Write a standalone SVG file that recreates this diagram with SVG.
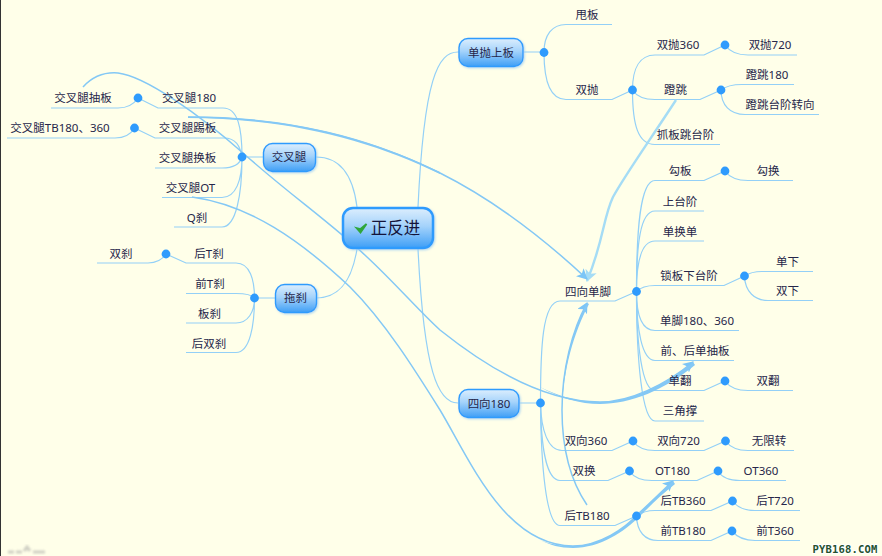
<svg xmlns="http://www.w3.org/2000/svg" width="882" height="556" viewBox="0 0 882 556">
<style>
text{font-family:"Noto Sans","Noto Sans CJK SC",sans-serif;font-size:11.5px;fill:#26264a;text-anchor:middle}
.l{fill:none;stroke:#93d0f7;stroke-width:1.2}
.a{fill:none;stroke:#84c8f5;stroke-width:1.5}
.t{fill:#84c8f5}
.d{fill:#2f9bfd}
.n{fill:url(#g);stroke:#2f9bfd;stroke-width:1.4;filter:url(#s)}
.c{font-size:16.5px;fill:#14143a}
</style>
<defs>
<linearGradient id="g" x1="0" y1="0" x2="0" y2="1"><stop offset="0" stop-color="#dceefd"/><stop offset="0.45" stop-color="#a5d3fb"/><stop offset="1" stop-color="#3f9ff6"/></linearGradient>
<filter id="s" x="-20%" y="-30%" width="140%" height="160%"><feDropShadow dx="1" dy="1" stdDeviation="1" flood-color="#9ecff2" flood-opacity="0.8"/></filter>
<filter id="b" x="-10%" y="-50%" width="120%" height="200%"><feGaussianBlur stdDeviation="0.8"/></filter>
<marker id="m" viewBox="0 0 10 10" refX="9" refY="5" markerWidth="11" markerHeight="11" markerUnits="userSpaceOnUse" orient="auto"><path d="M0,0L10,5L0,10L2.5,5Z" fill="#7cc5f6"/></marker>
<marker id="k" viewBox="0 0 10 10" refX="9" refY="5" markerWidth="12" markerHeight="12" markerUnits="userSpaceOnUse" orient="auto"><path d="M0,0L10,5L0,10L2.5,5Z" fill="#a5dcf5"/></marker>
</defs>
<rect width="882" height="556" fill="#ffffe9"/>
<rect width="1" height="556" fill="#333"/>
<g id="connectors">
<path class="l" d="M316,157C340,157 353,175 357,207M316,298C340,298 352,280 357,249M458,52C438,52 424,78 418,207M458,403C438,403 424,372 418,249"/>
<path class="l" d="M263,157H242M275,298H254.5M458,52H544M519,403H540.5"/>
<path class="l" d="M51,108H118C128,108 134,104 138,98L158,108H223C238,108 242,128 242,157"/>
<path class="l" d="M7,138H115C125,138 131,134 134.5,128L155,138H224C236,138 240,146 242,157"/>
<path class="l" d="M155,168H222C234,168 240,164 242,157M162,197.5H222C236,197.5 242,180 242,157M174,227H222C236,227 242,195 242,157"/>
<path class="l" d="M97,263H148C156,263 162,260 166,254L186,263H236C250,263 254.5,280 254.5,298"/>
<path class="l" d="M186,293.5H236C246,293.5 252,295 254.5,298M186,323H236C248,323 254.5,312 254.5,298M186,352.5H236C250,352.5 254.5,325 254.5,298"/>
<path class="l" d="M544,52.5C544,35 552,24.5 566,24.5H612M544,52.5C544,85 552,99.5 566,99.5H612L632.5,90"/>
<path class="l" d="M632.5,90C632.5,68 640,55 655,55H704L725,45C730,52 738,55 748,55H797"/>
<path class="l" d="M632.5,90C637,97 645,99.5 655,99.5H700L721,90C726,86 732,84.5 742,84.5H794M721,90C721,105 730,114.5 745,114.5H819"/>
<path class="l" d="M632.5,90C632.5,125 638,144.5 655,144.5H720"/>
<path class="l" d="M636.5,291.5C636.5,230 640,180.5 655,180.5H704L725,171C730,178 738,180.5 748,180.5H793"/>
<path class="l" d="M636.5,291.5C636.5,245 640,211 655,211H704M636.5,291.5C636.5,265 640,241 655,241H704"/>
<path class="l" d="M636.5,291.5C640,288 645,285.5 655,285.5H724L744.5,276C749,273 755,271.5 762,271.5H813M744.5,276C745,292 755,300.5 768,300.5H813"/>
<path class="l" d="M636.5,291.5C636.5,315 642,330.5 655,330.5H739M636.5,291.5C636.5,330 642,360.5 655,360.5H734"/>
<path class="l" d="M636.5,291.5C636.5,345 642,390.5 655,390.5H704L725,381C730,388 738,390.5 748,390.5H793"/>
<path class="l" d="M636.5,291.5C636.5,360 642,421 655,421H704"/>
<path class="l" d="M540.5,403C540.5,350 542,301 560,301H615L636.5,291.5"/>
<path class="l" d="M540.5,403C541,430 548,450.5 562,450.5H612L633,441C637,447 645,450.5 655,450.5H704L725.5,441C730,447 738,450.5 748,450.5H794"/>
<path class="l" d="M540.5,403C541,445 546,480.5 560,480.5H608L629.5,471C634,478 642,480.5 652,480.5H697L718,471C722,478 730,480.5 740,480.5H786"/>
<path class="l" d="M540.5,403C541,465 546,525.5 560,525.5H615L636.5,516C642,512 648,510.5 655,510.5H711L732.5,501C737,507 745,510.5 755,510.5H800"/>
<path class="l" d="M636.5,516C637,532 645,540.5 658,540.5H711L732,531C737,537 745,540.5 755,540.5H800"/>
<path d="M676,100C650,140 625,175 613,197C603,218 604,240 587,281" fill="none" stroke="#a5dcf5" stroke-width="2.4" marker-end="url(#k)"/>
<path class="a" d="M83,87C93,76 105,72 118,73C145,76 200,115 243,153C290,195 330,222 367,257C395,283 420,312 440,330C490,370 545,402 600,402C630,402 665,385 693,362" marker-end="url(#m)"/>
<path class="t" d="M540,387C560,397 580,402 600,402C630,402 665,385 693,362L695,365C665,390 630,404 600,404C580,404 560,398 540,387Z"/>
<path class="a" d="M188,117C290,117 370,138 440,173C490,198 540,235 587,279" marker-end="url(#m)"/>
<path class="t" d="M188,116.5C290,116.5 370,138 440,172L440,174C370,140 290,118.5 188,118Z"/>
<path class="a" d="M192,197C250,205 300,240 350,287C385,322 415,370 440,410C470,460 505,546 573,546C600,546 625,528 637,515C650,503 662,491 673,481" marker-end="url(#m)"/>
<path class="t" d="M540,540C550,544 560,546 573,546C600,546 625,528 637,515C650,503 662,491 673,481L675,484C662,494 650,506 639,517C625,531 600,548 573,548C560,548 550,545 540,540Z"/>
<path class="a" d="M587,505C570,480 562,450 562,410C562,370 572,330 587,303" marker-end="url(#m)"/>
<path class="t" d="M562,410C562,370 572,330 587,303L589,304C574,332 563,370 562,410Z"/>
<circle class="d" cx="138" cy="98" r="4.4"/><circle class="d" cx="134.5" cy="128" r="4.4"/><circle class="d" cx="242" cy="157" r="4.4"/><circle class="d" cx="166" cy="254" r="4.4"/><circle class="d" cx="254.5" cy="298" r="4.4"/>
<circle class="d" cx="544" cy="52.5" r="4.4"/><circle class="d" cx="632.5" cy="90" r="4.4"/><circle class="d" cx="725" cy="45" r="4.4"/><circle class="d" cx="721" cy="90" r="4.4"/><circle class="d" cx="725" cy="171" r="4.4"/><circle class="d" cx="744.5" cy="276" r="4.4"/><circle class="d" cx="636.5" cy="291.5" r="4.4"/><circle class="d" cx="725" cy="381" r="4.4"/><circle class="d" cx="540.5" cy="403" r="4.4"/><circle class="d" cx="633" cy="441" r="4.4"/><circle class="d" cx="725.5" cy="441" r="4.4"/><circle class="d" cx="629.5" cy="471" r="4.4"/><circle class="d" cx="718" cy="471" r="4.4"/><circle class="d" cx="636.5" cy="516" r="4.4"/><circle class="d" cx="732.5" cy="501" r="4.4"/><circle class="d" cx="732" cy="531" r="4.4"/>
</g>
<g id="root"><rect class="n" x="343" y="208" width="90" height="40" rx="10" style="stroke-width:2.5"/><path d="M356.5,228L360.5,232.5L366.5,224L360.5,229Z" fill="#2fa63a" stroke="#2fa63a" stroke-width="1.8"/><text class="c" x="395.5" y="234">正反进</text></g>
<g id="jiaocha"><rect class="n" x="263.5" y="143.5" width="52" height="28" rx="9"/><text x="289" y="161">交叉腿</text></g>
<g id="tuosha"><rect class="n" x="275.5" y="284.5" width="41" height="28" rx="9"/><text x="295.5" y="302">拖刹</text></g>
<g id="danpao"><rect class="n" x="459" y="38.5" width="64" height="28" rx="9"/><text x="491" y="56.5">单抛上板</text></g>
<g id="sixiang180"><rect class="n" x="459" y="389.5" width="60" height="28" rx="9"/><text x="489" y="407.5">四向180</text></g>
<g id="n1"><text x="83" y="102">交叉腿抽板</text></g>
<g id="n2"><text x="189" y="102">交叉腿180</text></g>
<g id="n3"><text x="60" y="132">交叉腿TB180、360</text></g>
<g id="n4"><text x="187.5" y="132">交叉腿踢板</text></g>
<g id="n5"><text x="187.5" y="162">交叉腿换板</text></g>
<g id="n6"><text x="190.5" y="192">交叉腿OT</text></g>
<g id="n7"><text x="197" y="222">Q刹</text></g>
<g id="n8"><text x="121" y="258">双刹</text></g>
<g id="n9"><text x="209" y="258">后T刹</text></g>
<g id="n10"><text x="210" y="288">前T刹</text></g>
<g id="n11"><text x="209.5" y="318">板刹</text></g>
<g id="n12"><text x="209" y="347.5">后双刹</text></g>
<g id="n13"><text x="587" y="19">甩板</text></g>
<g id="n14"><text x="587" y="94">双抛</text></g>
<g id="n15"><text x="678" y="49">双抛360</text></g>
<g id="n16"><text x="770" y="49">双抛720</text></g>
<g id="n17"><text x="675.5" y="94">蹬跳</text></g>
<g id="n18"><text x="767" y="79">蹬跳180</text></g>
<g id="n19"><text x="780" y="109">蹬跳台阶转向</text></g>
<g id="n20"><text x="685.5" y="139">抓板跳台阶</text></g>
<g id="n21"><text x="680" y="175">勾板</text></g>
<g id="n22"><text x="768" y="175">勾换</text></g>
<g id="n23"><text x="680" y="206">上台阶</text></g>
<g id="n24"><text x="680" y="236">单换单</text></g>
<g id="n25"><text x="689" y="280">锁板下台阶</text></g>
<g id="n26"><text x="787.5" y="266">单下</text></g>
<g id="n27"><text x="787.5" y="295">双下</text></g>
<g id="n28"><text x="588" y="296">四向单脚</text></g>
<g id="n29"><text x="697" y="325">单脚180、360</text></g>
<g id="n30"><text x="695" y="355">前、后单抽板</text></g>
<g id="n31"><text x="680" y="385">单翻</text></g>
<g id="n32"><text x="768" y="385">双翻</text></g>
<g id="n33"><text x="680" y="415">三角撑</text></g>
<g id="n34"><text x="586" y="445">双向360</text></g>
<g id="n35"><text x="678.5" y="445">双向720</text></g>
<g id="n36"><text x="769" y="445">无限转</text></g>
<g id="n37"><text x="584" y="475">双换</text></g>
<g id="n38"><text x="672.5" y="474.5">OT180</text></g>
<g id="n39"><text x="761" y="474.5">OT360</text></g>
<g id="n40"><text x="587" y="520">后TB180</text></g>
<g id="n41"><text x="683" y="505">后TB360</text></g>
<g id="n42"><text x="775" y="505">后T720</text></g>
<g id="n43"><text x="683" y="535">前TB180</text></g>
<g id="n44"><text x="775" y="535">前T360</text></g>
<text x="845" y="553" style="font-family:'DejaVu Sans Mono',monospace;font-size:10.5px;font-weight:bold;fill:#24512f;stroke:#ffffff;stroke-width:2;paint-order:stroke;letter-spacing:0.2px">PYB168.COM</text>
<path d="M8,552H14M16,552H22M24,551L27,547L30,551M33,552H45" fill="none" stroke="#bdbdb5" stroke-width="3" opacity="0.7" filter="url(#b)"/>
</svg>
